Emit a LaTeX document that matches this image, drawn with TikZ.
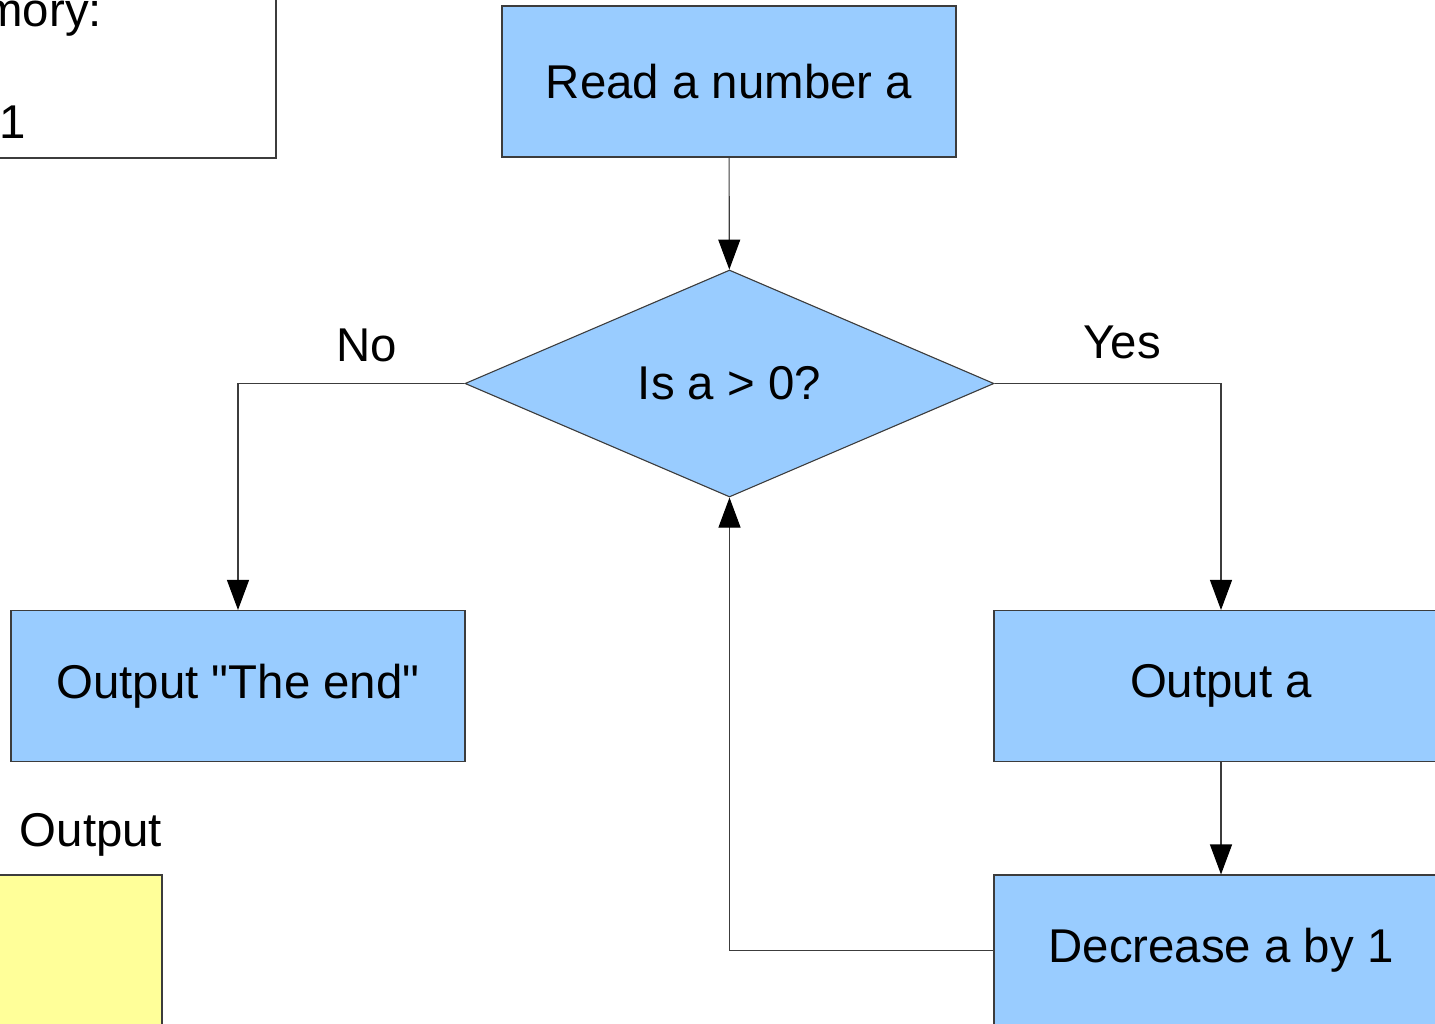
\documentclass[tikz,border=0pt]{standalone}
\usepackage{fontspec}
\setmainfont{Liberation Sans}
\newfontfamily\plainquote{Liberation Sans}
\usepackage{tikz}
\usetikzlibrary{shapes.geometric, arrows.meta, positioning}
\definecolor{boxblue}{HTML}{99CCFF}
\definecolor{outyellow}{HTML}{FFFF99}
\definecolor{linegray}{HTML}{3C3C3C}
\tikzset{
  stepbox/.style={draw=linegray, line width=0.55pt, fill=boxblue, minimum width=227pt, minimum height=75.5pt, inner sep=0pt},
  decision/.style={diamond, draw=linegray, line width=0.55pt, fill=boxblue, minimum width=264.5pt, minimum height=113.5pt, aspect=2.33, inner sep=0pt},
  flow/.style={draw=linegray, line width=0.55pt, -{Triangle[length=15pt, width=11pt, color=black]}},
  lbl/.style={font=\fontsize{23.7}{28}\selectfont}
}

\begin{document}
\begin{tikzpicture}[x=0.5pt, y=-0.5pt, lbl]
  % Page frame (cropped view)
  \useasboundingbox (0,0) rectangle (1435,1023);
  \clip (0,0) rectangle (1435,1023);

  % Memory panel (top left)
  \draw[draw=linegray, line width=0.55pt, fill=white] (-300,-100) rectangle (276,158);
  \node[anchor=east] (memtitle) at (109,15) {Memory:};
  \node[anchor=east] (memval) at (33,122) {1};

  % Output panel (bottom left)
  \node (outtitle) at (91,835) {Output};
  \draw[draw=linegray, line width=0.55pt, fill=outyellow] (-200,875) rectangle (162,1200);

  % Flowchart nodes
  \node[stepbox] (read) at (729,81.5) {Read a number a};
  \node[decision] (test) at (729.5,383.5) {Is a > 0?};
  \node[stepbox, font=\plainquote\fontsize{23.7}{28}\selectfont] (theend) at (238,686) {Output "The end"};
  \node[stepbox] (outa) at (1221,686) {Output a};
  \node[stepbox] (dec) at (1221,950.5) {Decrease a by 1};

  % Branch labels
  \node (no) at (367,345) {No};
  \node (yes) at (1122,342) {Yes};

  % Connectors
  \draw[flow] (read) -- (test);
  \draw[flow] (test.west) -| (theend.north);
  \draw[flow] (test.east) -| (outa.north);
  \draw[flow] (outa) -- (dec);
  \draw[flow] (dec.west) -| (test.south);
\end{tikzpicture}
\end{document}
